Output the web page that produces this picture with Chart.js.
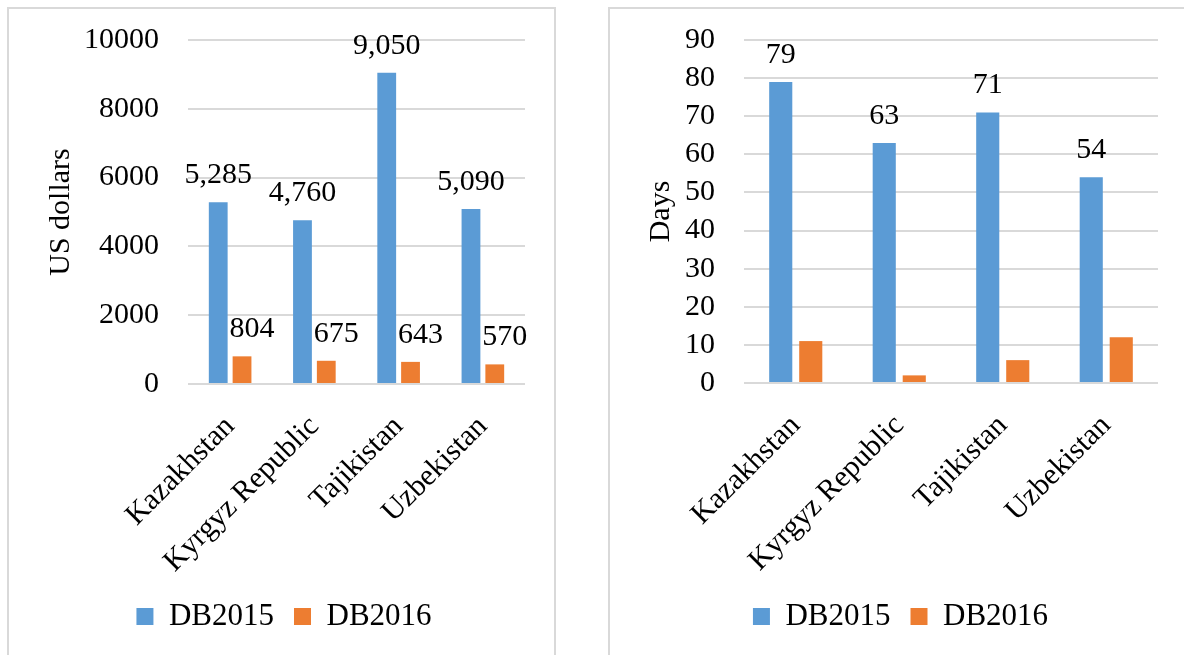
<!DOCTYPE html>
<html>
<head>
<meta charset="utf-8">
<script src="https://cdn.jsdelivr.net/npm/chart.js@4.4.0/dist/chart.umd.min.js"></script>
<style>
  html, body { margin: 0; padding: 0; background: #fff; width: 1184px; height: 655px; overflow: hidden; }
  .box { position: absolute; border: 2px solid #d9d9d9; box-sizing: border-box; pointer-events: none; }
  canvas { position: absolute; top: 0; }
</style>
</head>
<body>
<div class="box" style="left:7px; top:7px; width:549px; height:700px;"></div>
<div class="box" style="left:608px; top:7px; width:600px; height:700px;"></div>
<canvas id="c1" width="580" height="655" style="left:0px;"></canvas>
<canvas id="c2" width="594" height="655" style="left:590px;"></canvas>
<script>
// ---- data ----
const categories = ["Kazakhstan", "Kyrgyz Republic", "Tajikistan", "Uzbekistan"];
const seriesNames = ["DB2015", "DB2016"];
const costDB2015 = [5285, 4760, 9050, 5090];
const costDB2016 = [804, 675, 643, 570];
const daysDB2015 = [79, 63, 71, 54];
const daysDB2016 = [11, 2, 6, 12];
const costTicks = { min: 0, max: 10000, step: 2000 };
const daysTicks = { min: 0, max: 90, step: 10 };
const costTitle = "US dollars";
const daysTitle = "Days";

const BLUE = "#5B9BD5", ORANGE = "#ED7D31";
const FONT = "Liberation Serif";
const FS = 30;
Chart.defaults.font.family = FONT;
Chart.defaults.color = "#000";

const labelPlugin = {
  id: "barLabels",
  afterDatasetsDraw(chart, args, opts) {
    const ctx = chart.ctx;
    ctx.save();
    ctx.font = FS + "px '" + FONT + "'";
    ctx.fillStyle = "#000";
    ctx.textAlign = "center";
    ctx.textBaseline = "alphabetic";
    chart.data.datasets.forEach((ds, di) => {
      const cfg = (opts.datasets || [])[di];
      if (!cfg) return;
      const meta = chart.getDatasetMeta(di);
      meta.data.forEach((bar, i) => {
        const v = ds.data[i];
        ctx.fillText(v.toLocaleString("en-US"), bar.x + (cfg.dx || 0), bar.y - 19);
      });
    });
    ctx.restore();
  }
};

function makeChart(id, d1, d2, ticks, title, geo) {
  return new Chart(document.getElementById(id), {
    type: "bar",
    data: {
      labels: categories,
      datasets: [
        { label: seriesNames[0], data: d1, backgroundColor: BLUE,
          barPercentage: geo.barPct, categoryPercentage: geo.catPct },
        { label: seriesNames[1], data: d2, backgroundColor: ORANGE,
          barPercentage: geo.barPct, categoryPercentage: geo.catPct }
      ]
    },
    plugins: [labelPlugin],
    options: {
      responsive: false,
      animation: false,
      devicePixelRatio: 1,
      layout: { padding: { left: geo.padLeft, right: geo.padRight, top: 40, bottom: 13 } },
      plugins: {
        legend: {
          position: "bottom",
          labels: { font: { size: 31, family: FONT }, color: "#000", boxWidth: 17, boxHeight: 17, padding: 20 }
        },
        tooltip: { enabled: false },
        barLabels: { datasets: geo.labelCfg }
      },
      scales: {
        x: {
          grid: { display: false },
          border: { display: false },
          ticks: { font: { size: FS, family: FONT }, color: "#000", minRotation: 45, maxRotation: 45,
                    autoSkip: false, padding: geo.xPad },
          afterFit(s) { s.height = geo.xHeight; }
        },
        y: {
          min: ticks.min, max: ticks.max,
          ticks: { stepSize: ticks.step, autoSkip: false, font: { size: FS, family: FONT }, color: "#000", padding: 29,
                   callback: v => String(v) },
          grid: { color: "#d9d9d9", lineWidth: 2, drawTicks: false },
          border: { display: false },
          title: { display: true, text: title, font: { size: FS, family: FONT }, color: "#000", padding: 0 },
          afterFit(s) { s.width = geo.yWidth; s.paddingTop = 0; s.paddingBottom = 0; }
        }
      }
    }
  });
}

makeChart("c1", costDB2015, costDB2016, costTicks, costTitle, {
  barPct: 0.79, catPct: 0.565, padLeft: 43, padRight: 55, yWidth: 145, xHeight: 197, xPad: 17,
  labelCfg: [{ dx: 0 }, { dx: 10 }]
});
makeChart("c2", daysDB2015, daysDB2016, daysTicks, daysTitle, {
  barPct: 0.77, catPct: 0.58, padLeft: 53, padRight: 26, yWidth: 101, xHeight: 198, xPad: 17,
  labelCfg: [{ dx: 0 }]
});
</script>
</body>
</html>
